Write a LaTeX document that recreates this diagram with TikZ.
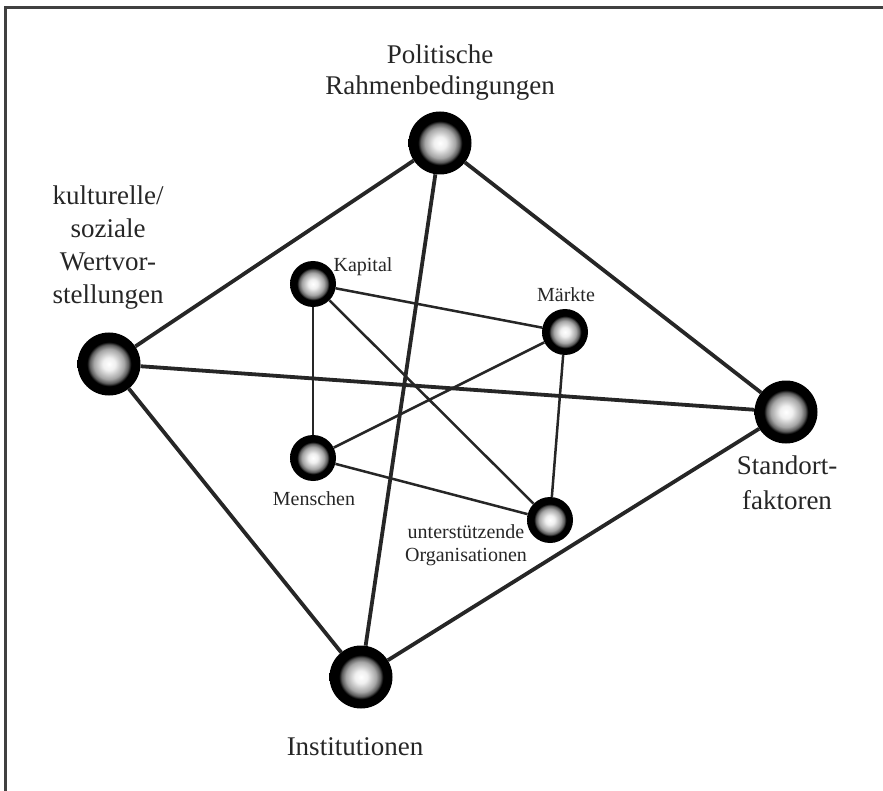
\documentclass[tikz,border=0pt]{standalone}
\usepackage{fontspec}
\setmainfont{Liberation Serif}
\usetikzlibrary{backgrounds}
\pgfdeclareradialshading{myball}{\pgfpoint{0bp}{0bp}}{color(0bp)=(white); color(5bp)=(white!94!black); color(12bp)=(white!65!black); color(15.5bp)=(white!35!black); color(17.5bp)=(black); color(50bp)=(black)}
\tikzset{
  bigball/.style={circle, shading=myball, minimum size=63pt, inner sep=0pt},
  smallball/.style={circle, shading=myball, minimum size=46pt, inner sep=0pt},
  biglabel/.style={font=\fontsize{27}{33}\selectfont, align=center, inner sep=0pt, text=black!85},
  smalllabel/.style={font=\fontsize{20}{23}\selectfont, align=center, inner sep=0pt, text=black!85},
  outeredge/.style={line width=3.8pt, black!85},
  inneredge/.style={line width=2.5pt, black!85},
  frameline/.style={line width=3pt, black!75}
}
\begin{document}
\begin{tikzpicture}[x=1pt,y=-1pt]
\useasboundingbox (0,0) rectangle (883,791);
\draw[frameline] (5,791) -- (5,8) -- (883,8);
% outer nodes
\node[bigball] (P) at (440,143) {};
\node[bigball] (K) at (109,364) {};
\node[bigball] (S) at (786,412) {};
\node[bigball] (I) at (361,677) {};
% inner nodes
\node[smallball] (Ka) at (313,284) {};
\node[smallball] (M) at (565,332) {};
\node[smallball] (Me) at (313,458) {};
\node[smallball] (U) at (550,520) {};
% labels
\node[biglabel, anchor=north, font=\fontsize{27}{31}\selectfont] (lP) at (440,45) {Politische\\Rahmenbedingungen};
\node[biglabel, anchor=north] (lK) at (108,186) {kulturelle/\\soziale\\Wertvor-\\stellungen};
\node[biglabel, anchor=north, font=\fontsize{27}{35}\selectfont] (lS) at (787,456) {Standort-\\faktoren};
\node[biglabel, anchor=base] (lI) at (355,755) {Institutionen};
\node[smalllabel, anchor=base] (lKa) at (363,272) {Kapital};
\node[smalllabel, anchor=base] (lM) at (566,302) {Märkte};
\node[smalllabel, anchor=base] (lMe) at (314,505) {Menschen};
\node[smalllabel, anchor=north] (lU) at (466,524) {unterstützende\\Organisationen};
% edges
\begin{scope}[on background layer]
\draw[outeredge] (P) -- (K);
\draw[outeredge] (P) -- (S);
\draw[outeredge] (P) -- (I);
\draw[outeredge] (K) -- (S);
\draw[outeredge] (K) -- (I);
\draw[outeredge] (I) -- (S);
\draw[inneredge] (Ka) -- (M);
\draw[inneredge] (Ka) -- (Me);
\draw[inneredge] (Ka) -- (U);
\draw[inneredge] (M) -- (Me);
\draw[inneredge] (M) -- (U);
\draw[inneredge] (Me) -- (U);
\end{scope}
\end{tikzpicture}
\end{document}
